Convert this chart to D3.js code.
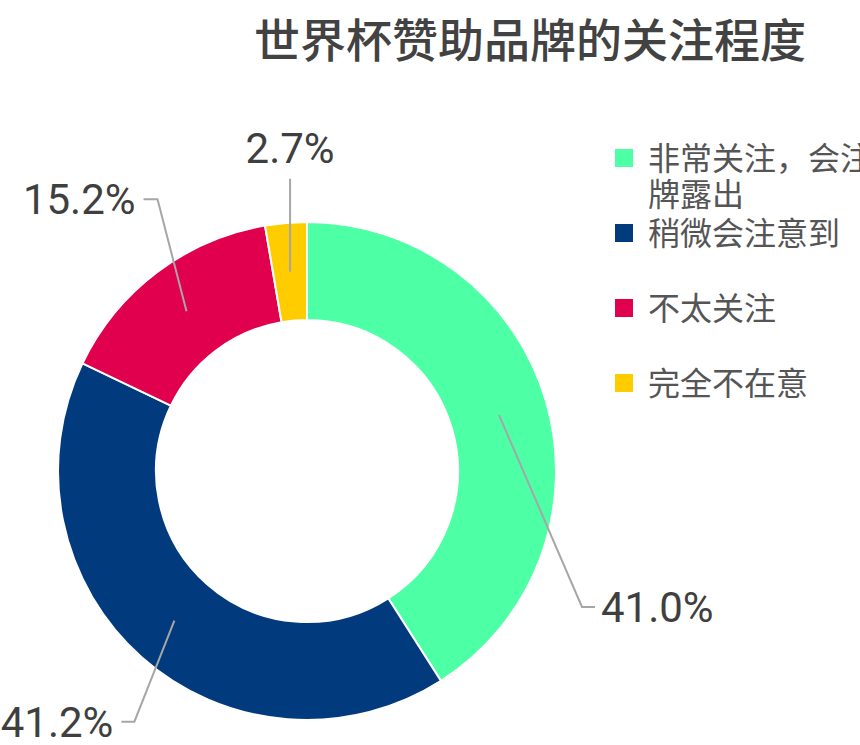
<!DOCTYPE html>
<html>
<head>
<meta charset="utf-8">
<script src="https://cdn.jsdelivr.net/npm/d3@7"></script>
<style>
  html, body { margin: 0; padding: 0; background: #fff; overflow: hidden; }
  svg { display: block; }
</style>
</head>
<body>
<div id="chart"></div>
<script>
// data
var categories = ["非常关注，会注意品牌露出", "稍微会注意到", "不太关注", "完全不在意"];
var shares = [41.0, 41.2, 15.2, 2.7];
var colors = ["#4dffa5", "#023a7e", "#e0004d", "#ffcc00"];

// label line layout: elbow offset from the slice anchor, then short horizontal leg
var labelElbow = [[83, 192], [-40, 101], [-29, -112], [0, -93]];
var labelLeg = [13, -13, -14, 0];

var width = 860, height = 745;
var cx = 307, cy = 471, outerR = 249, innerR = 151;

var svg = d3.select("#chart")
  .append("svg")
  .attr("width", width)
  .attr("height", height);

svg.append("text")
  .attr("x", 530)
  .attr("y", 57)
  .attr("text-anchor", "middle")
  .style("font-family", "'Noto Sans CJK SC', 'Noto Sans', sans-serif")
  .style("font-size", "46px")
  .style("font-weight", 500)
  .style("fill", "#424242")
  .text("世界杯赞助品牌的关注程度");

var pie = d3.pie().sort(null).value(function (d) { return d; });
var arcs = pie(shares);

var arc = d3.arc().innerRadius(innerR).outerRadius(outerR);
var midArc = d3.arc().innerRadius(200).outerRadius(200);

var g = svg.append("g").attr("transform", "translate(" + cx + "," + cy + ")");

g.selectAll("path.slice")
  .data(arcs)
  .enter()
  .append("path")
  .attr("class", "slice")
  .attr("d", arc)
  .attr("fill", function (d, i) { return colors[i]; })
  .attr("stroke", "#fff")
  .attr("stroke-width", 2);

// leader lines + labels
arcs.forEach(function (d, i) {
  var p0 = midArc.centroid(d);
  var p1 = [p0[0] + labelElbow[i][0], p0[1] + labelElbow[i][1]];
  var p2 = [p1[0] + labelLeg[i], p1[1]];
  g.append("polyline")
    .attr("points", [p0, p1, p2].map(function (p) { return p.join(","); }).join(" "))
    .attr("fill", "none")
    .attr("stroke", "#a6a6a6")
    .attr("stroke-width", 2);

  var t = g.append("text")
    .style("font-family", "Roboto, 'Noto Sans', sans-serif")
    .style("font-size", "42px")
    .style("fill", "#3f3f3f")
    .text(d3.format(".1f")(shares[i]) + "%");
  if (labelLeg[i] === 0) {
    t.attr("x", p2[0]).attr("y", p2[1] - 16).attr("text-anchor", "middle");
  } else {
    t.attr("x", p2[0] + (labelLeg[i] > 0 ? 6 : -8))
      .attr("y", p2[1])
      .attr("dy", "0.36em")
      .attr("text-anchor", labelLeg[i] > 0 ? "start" : "end");
  }
});

// legend
var legendY = [170, 245, 320, 395];
var legend = svg.append("g");
categories.forEach(function (c, i) {
  legend.append("rect")
    .attr("x", 615)
    .attr("y", legendY[i] - 21)
    .attr("width", 18)
    .attr("height", 18)
    .attr("fill", colors[i]);
  var lines = c.length > 9 ? [c.slice(0, 9), c.slice(9)] : [c];
  var t = legend.append("text")
    .attr("x", 648)
    .attr("y", legendY[i])
    .style("font-family", "'Noto Sans CJK SC', 'Noto Sans', sans-serif")
    .style("font-size", "32px")
    .style("fill", "#555");
  lines.forEach(function (l, j) {
    t.append("tspan").attr("x", 648).attr("dy", j === 0 ? 0 : 36).text(l);
  });
});
</script>
</body>
</html>
